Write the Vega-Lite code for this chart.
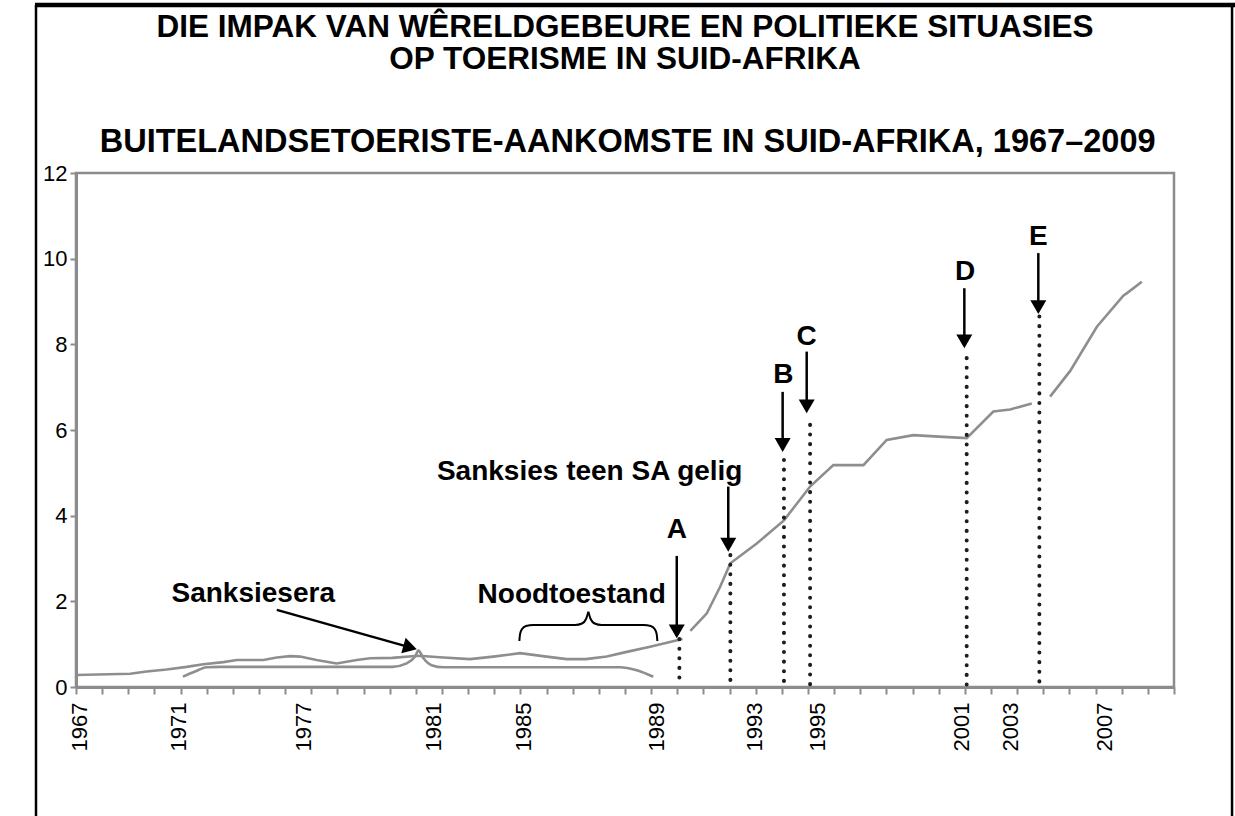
{
  "$schema": "https://vega.github.io/schema/vega-lite/v6.json",
  "width": 1098,
  "height": 514,
  "autosize": {"type": "none"},
  "padding": {"left": 76, "top": 173, "right": 61, "bottom": 129},
  "background": "white",
  "config": {
    "font": "Liberation Sans",
    "view": {"stroke": "#8c8c8c", "strokeWidth": 2.5},
    "axis": {"grid": false, "title": null}
  },
  "datasets": {
    "titles": [
      {"text": "DIE IMPAK VAN WÊRELDGEBEURE EN POLITIEKE SITUASIES", "x": 1988.0, "y": 15.17},
      {"text": "OP TOERISME IN SUID-AFRIKA", "x": 1988.0, "y": 14.43}
    ],
    "subtitle": [
      {"text": "BUITELANDSETOERISTE-AANKOMSTE IN SUID-AFRIKA, 1967–2009", "x": 1988.1, "y": 12.49}
    ],
    "frame_top": [{"x": 1965.43, "x2": 2011.34, "y": 15.92}],
    "frame_sides": [
      {"x": 1965.47, "y": 15.92, "y2": -3.05},
      {"x": 2011.22, "y": 15.92, "y2": -3.05}
    ],
    "arrivals": [
      {"year": 1967.0, "value": 0.28, "seg": 1},
      {"year": 1969.07, "value": 0.31, "seg": 1},
      {"year": 1969.7, "value": 0.36, "seg": 1},
      {"year": 1970.47, "value": 0.41, "seg": 1},
      {"year": 1971.23, "value": 0.47, "seg": 1},
      {"year": 1971.87, "value": 0.53, "seg": 1},
      {"year": 1972.64, "value": 0.58, "seg": 1},
      {"year": 1973.15, "value": 0.63, "seg": 1},
      {"year": 1974.17, "value": 0.63, "seg": 1},
      {"year": 1974.68, "value": 0.69, "seg": 1},
      {"year": 1975.19, "value": 0.72, "seg": 1},
      {"year": 1975.57, "value": 0.71, "seg": 1},
      {"year": 1976.2, "value": 0.63, "seg": 1},
      {"year": 1976.97, "value": 0.55, "seg": 1},
      {"year": 1977.74, "value": 0.63, "seg": 1},
      {"year": 1978.25, "value": 0.67, "seg": 1},
      {"year": 1979.1, "value": 0.68, "seg": 1},
      {"year": 1980.1, "value": 0.73, "seg": 1},
      {"year": 1981.05, "value": 0.69, "seg": 1},
      {"year": 1982.07, "value": 0.65, "seg": 1},
      {"year": 1982.96, "value": 0.71, "seg": 1},
      {"year": 1983.99, "value": 0.79, "seg": 1},
      {"year": 1985.0, "value": 0.71, "seg": 1},
      {"year": 1985.77, "value": 0.65, "seg": 1},
      {"year": 1986.5, "value": 0.65, "seg": 1},
      {"year": 1987.3, "value": 0.71, "seg": 1},
      {"year": 1988.07, "value": 0.82, "seg": 1},
      {"year": 1988.96, "value": 0.94, "seg": 1},
      {"year": 1990.2, "value": 1.12, "seg": 1},
      {"year": 1990.5, "value": 1.31, "seg": 2},
      {"year": 1991.13, "value": 1.72, "seg": 2},
      {"year": 1991.64, "value": 2.34, "seg": 2},
      {"year": 1992.03, "value": 2.89, "seg": 2},
      {"year": 1993.04, "value": 3.35, "seg": 2},
      {"year": 1994.08, "value": 3.89, "seg": 2},
      {"year": 1995.08, "value": 4.68, "seg": 2},
      {"year": 1995.97, "value": 5.18, "seg": 2},
      {"year": 1997.12, "value": 5.18, "seg": 2},
      {"year": 1998.01, "value": 5.77, "seg": 2},
      {"year": 1999.03, "value": 5.88, "seg": 2},
      {"year": 2000.18, "value": 5.84, "seg": 2},
      {"year": 2001.07, "value": 5.81, "seg": 2},
      {"year": 2002.09, "value": 6.43, "seg": 2},
      {"year": 2002.73, "value": 6.48, "seg": 2},
      {"year": 2003.56, "value": 6.62, "seg": 2},
      {"year": 2004.26, "value": 6.78, "seg": 3},
      {"year": 2005.03, "value": 7.38, "seg": 3},
      {"year": 2006.05, "value": 8.41, "seg": 3},
      {"year": 2007.07, "value": 9.14, "seg": 3},
      {"year": 2007.19, "value": 9.19, "seg": 3},
      {"year": 2007.77, "value": 9.46, "seg": 3}
    ],
    "sanction_brace": [
      {"year": 1971.09, "value": 0.24},
      {"year": 1971.55, "value": 0.36},
      {"year": 1972.0, "value": 0.46},
      {"year": 1972.5, "value": 0.47},
      {"year": 1979.1, "value": 0.47},
      {"year": 1979.65, "value": 0.55},
      {"year": 1979.97, "value": 0.71},
      {"year": 1980.1, "value": 0.85},
      {"year": 1980.29, "value": 0.67},
      {"year": 1980.6, "value": 0.51},
      {"year": 1981.05, "value": 0.46},
      {"year": 1987.8, "value": 0.46},
      {"year": 1988.45, "value": 0.39},
      {"year": 1989.08, "value": 0.24}
    ],
    "events": [
      {"event": "A", "year": 1990.08, "top": 1.12},
      {"event": "Sanksies", "year": 1992.03, "top": 3.08},
      {"event": "B", "year": 1994.08, "top": 5.3},
      {"event": "C", "year": 1995.08, "top": 6.12},
      {"event": "D", "year": 2001.07, "top": 7.68},
      {"event": "E", "year": 2003.85, "top": 8.65}
    ],
    "arrow_shafts": [
      {"x": 1989.98, "y": 3.06, "x2": 1989.98, "y2": 1.35},
      {"x": 1991.95, "y": 4.68, "x2": 1991.95, "y2": 3.35},
      {"x": 1994.03, "y": 6.89, "x2": 1994.03, "y2": 5.68},
      {"x": 1994.95, "y": 7.83, "x2": 1994.95, "y2": 6.58},
      {"x": 2000.98, "y": 9.31, "x2": 2000.98, "y2": 8.1},
      {"x": 2003.81, "y": 10.13, "x2": 2003.81, "y2": 8.9},
      {"x": 1974.68, "y": 1.8, "x2": 1979.78, "y2": 0.925}
    ],
    "arrow_heads_down": [
      {"x": 1989.98, "y": 1.3},
      {"x": 1991.95, "y": 3.32},
      {"x": 1994.03, "y": 5.65},
      {"x": 1994.95, "y": 6.55},
      {"x": 2000.98, "y": 8.07},
      {"x": 2003.81, "y": 8.87}
    ],
    "arrow_head_diag": [{"x": 1979.78, "y": 0.925}],
    "emergency_brace": [
      {"half": "L", "year": 1983.959, "value": 1.074},
      {"half": "L", "year": 1983.986, "value": 1.237},
      {"half": "L", "year": 1984.062, "value": 1.354},
      {"half": "L", "year": 1984.215, "value": 1.424},
      {"half": "L", "year": 1984.483, "value": 1.448},
      {"half": "L", "year": 1986.09, "value": 1.448},
      {"half": "L", "year": 1986.357, "value": 1.483},
      {"half": "L", "year": 1986.51, "value": 1.588},
      {"half": "L", "year": 1986.598, "value": 1.758},
      {"half": "R", "year": 1986.598, "value": 1.758},
      {"half": "R", "year": 1986.686, "value": 1.588},
      {"half": "R", "year": 1986.839, "value": 1.483},
      {"half": "R", "year": 1987.107, "value": 1.448},
      {"half": "R", "year": 1988.714, "value": 1.448},
      {"half": "R", "year": 1988.982, "value": 1.424},
      {"half": "R", "year": 1989.135, "value": 1.354},
      {"half": "R", "year": 1989.211, "value": 1.237},
      {"half": "R", "year": 1989.238, "value": 1.074}
    ],
    "labels": [
      {"text": "Sanksiesera", "x": 1973.78, "y": 1.99},
      {"text": "Noodtoestand", "x": 1985.96, "y": 1.954},
      {"text": "A", "x": 1989.98, "y": 3.47},
      {"text": "Sanksies teen SA gelig", "x": 1986.65, "y": 4.83},
      {"text": "B", "x": 1994.06, "y": 7.09},
      {"text": "C", "x": 1994.95, "y": 7.99},
      {"text": "D", "x": 2001.01, "y": 9.5},
      {"text": "E", "x": 2003.81, "y": 10.32}
    ]
  },
  "resolve": {"axis": {"x": "independent"}},
  "layer": [
    {
      "data": {"name": "arrivals"},
      "mark": {"type": "line", "color": "#8e8e8e", "strokeWidth": 2.6, "clip": false},
      "encoding": {
        "x": {
          "field": "year", "type": "quantitative",
          "scale": {"domain": [1967, 2009], "nice": false, "zero": false},
          "axis": {
            "orient": "bottom",
            "values": [1967,1968,1969,1970,1971,1972,1973,1974,1975,1976,1977,1978,1979,1980,1981,1982,1983,1984,1985,1986,1987,1988,1989,1990,1991,1992,1993,1994,1995,1996,1997,1998,1999,2000,2001,2002,2003,2004,2005,2006,2007,2008,2009],
            "labels": false, "tickSize": 7, "tickWidth": 2, "tickColor": "#8c8c8c",
            "domainColor": "#8c8c8c", "domainWidth": 3, "grid": false
          }
        },
        "y": {
          "field": "value", "type": "quantitative",
          "scale": {"domain": [0, 12], "nice": false, "zero": true},
          "axis": {
            "values": [0, 2, 4, 6, 8, 10, 12],
            "labelFontSize": 22, "labelColor": "black", "labelFont": "Liberation Sans",
            "tickSize": 6, "tickWidth": 2, "tickColor": "#8c8c8c", "labelPadding": 3,
            "domainColor": "#8c8c8c", "domainWidth": 3, "grid": false
          }
        },
        "detail": {"field": "seg", "type": "nominal"}
      }
    },
    {
      "data": {"name": "sanction_brace"},
      "mark": {"type": "line", "color": "#8e8e8e", "strokeWidth": 2.6, "interpolate": "monotone"},
      "encoding": {
        "x": {"field": "year", "type": "quantitative", "axis": null},
        "y": {"field": "value", "type": "quantitative"}
      }
    },
    {
      "data": {"name": "events"},
      "mark": {"type": "rule", "color": "#1e1e1e", "strokeWidth": 4, "strokeDash": [0.1, 9.5], "strokeCap": "round"},
      "encoding": {
        "x": {"field": "year", "type": "quantitative", "axis": null},
        "y": {"field": "top", "type": "quantitative"},
        "y2": {"datum": 0}
      }
    },
    {
      "data": {"name": "arrow_shafts"},
      "mark": {"type": "rule", "color": "black", "strokeWidth": 2.5},
      "encoding": {
        "x": {"field": "x", "type": "quantitative", "axis": null},
        "y": {"field": "y", "type": "quantitative"},
        "x2": {"field": "x2"},
        "y2": {"field": "y2"}
      }
    },
    {
      "data": {"name": "arrow_heads_down"},
      "mark": {"type": "point", "shape": "triangle-down", "filled": true, "color": "black", "opacity": 1, "size": 256},
      "encoding": {
        "x": {"field": "x", "type": "quantitative", "axis": null},
        "y": {"field": "y", "type": "quantitative"}
      }
    },
    {
      "data": {"name": "arrow_head_diag"},
      "mark": {"type": "point", "shape": "triangle-right", "filled": true, "color": "black", "opacity": 1, "size": 256, "angle": 15.7},
      "encoding": {
        "x": {"field": "x", "type": "quantitative", "axis": null},
        "y": {"field": "y", "type": "quantitative"}
      }
    },
    {
      "data": {"name": "emergency_brace"},
      "mark": {"type": "line", "color": "black", "strokeWidth": 2, "interpolate": "monotone"},
      "encoding": {
        "x": {"field": "year", "type": "quantitative", "axis": null},
        "y": {"field": "value", "type": "quantitative"},
        "detail": {"field": "half", "type": "nominal"}
      }
    },
    {
      "data": {"name": "labels"},
      "mark": {"type": "text", "font": "Liberation Sans", "fontWeight": "bold", "fontSize": 28, "align": "center", "baseline": "alphabetic", "color": "black"},
      "encoding": {
        "x": {
          "field": "x", "type": "quantitative",
          "axis": {
            "orient": "bottom",
            "values": [1967.15, 1970.91, 1975.7, 1980.67, 1984.11, 1989.21, 1992.94, 1995.35, 2000.88, 2002.76, 2006.34],
            "labelExpr": "['1967','1971','1977','1981','1985','1989','1993','1995','2001','2003','2007'][indexof([1967.15, 1970.91, 1975.7, 1980.67, 1984.11, 1989.21, 1992.94, 1995.35, 2000.88, 2002.76, 2006.34], datum.value)]",
            "labelAngle": 270, "labelAlign": "right", "labelBaseline": "middle",
            "labelFontSize": 22, "labelColor": "black", "labelFont": "Liberation Sans",
            "ticks": false, "tickSize": 0, "domain": false, "labelPadding": 15,
            "labelOverlap": false, "labelBound": false, "labelFlush": false, "grid": false
          }
        },
        "y": {"field": "y", "type": "quantitative"},
        "text": {"field": "text"}
      }
    },
    {
      "data": {"name": "titles"},
      "mark": {"type": "text", "font": "Liberation Sans", "fontWeight": "bold", "fontSize": 31.5, "align": "center", "baseline": "alphabetic", "color": "black", "clip": false},
      "encoding": {
        "x": {"field": "x", "type": "quantitative", "axis": null},
        "y": {"field": "y", "type": "quantitative"},
        "text": {"field": "text"}
      }
    },
    {
      "data": {"name": "subtitle"},
      "mark": {"type": "text", "font": "Liberation Sans", "fontWeight": "bold", "fontSize": 32.5, "align": "center", "baseline": "alphabetic", "color": "black", "clip": false},
      "encoding": {
        "x": {"field": "x", "type": "quantitative", "axis": null},
        "y": {"field": "y", "type": "quantitative"},
        "text": {"field": "text"}
      }
    },
    {
      "data": {"name": "frame_top"},
      "mark": {"type": "rule", "color": "black", "strokeWidth": 4.5, "clip": false},
      "encoding": {
        "x": {"field": "x", "type": "quantitative", "axis": null},
        "x2": {"field": "x2"},
        "y": {"field": "y", "type": "quantitative"}
      }
    },
    {
      "data": {"name": "frame_sides"},
      "mark": {"type": "rule", "color": "black", "strokeWidth": 2.5, "clip": false},
      "encoding": {
        "x": {"field": "x", "type": "quantitative", "axis": null},
        "y": {"field": "y", "type": "quantitative"},
        "y2": {"field": "y2"}
      }
    }
  ]
}
